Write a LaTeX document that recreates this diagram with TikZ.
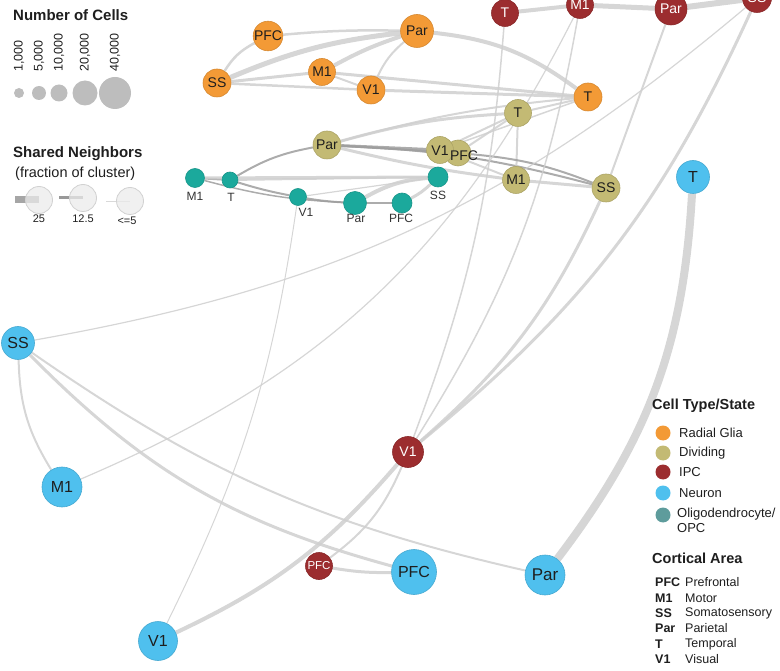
\documentclass[tikz,border=0pt]{standalone}
\usepackage{fontspec}
\setmainfont{Liberation Sans}
\usetikzlibrary{backgrounds}
\definecolor{rg}{HTML}{F39A36}
\definecolor{dv}{HTML}{C3BA74}
\definecolor{ipc}{HTML}{9C2D2F}
\definecolor{neu}{HTML}{4FC0EE}
\definecolor{olg}{HTML}{1BA99C}
\definecolor{olgleg}{HTML}{5E9C9C}
\definecolor{edl}{HTML}{CFCFCF}
\definecolor{edd}{HTML}{9E9E9E}
\definecolor{txt}{HTML}{1E1E1E}
\definecolor{lgrey}{HTML}{BDBDBD}
\newcommand\myfs[1]{\fontsize{#1}{#1}\selectfont}
\begin{document}
\begin{tikzpicture}[x=1pt,y=-1pt,
  cellnode/.style={circle, inner sep=0pt, fill=#1, draw=#1!88!black, line width=0.6pt, text=txt},
  rgn/.style={cellnode=rg, font=\myfs{14}},
  dvn/.style={cellnode=dv, font=\myfs{14}},
  ipn/.style={cellnode=ipc, font=\myfs{14}, text=white},
  nen/.style={cellnode=neu, font=\myfs{16}},
  oln/.style={cellnode=olg},
  olbl/.style={font=\myfs{12}, text=black!80, inner sep=0pt},
  dvl/.style={font=\myfs{14}, text=txt, inner sep=0pt},
  ed/.style={draw=edl, draw opacity=0.85, line width=#1pt},
  dk/.style={draw=edd, draw opacity=0.85, line width=#1pt},
  ttl/.style={font=\bfseries\myfs{15}, text=txt, anchor=west, inner sep=0pt},
  ttlb/.style={font=\bfseries\myfs{14.5}, text=txt, anchor=west, inner sep=0pt},
  lgc/.style={circle, inner sep=0pt, fill=lgrey},
  rotlbl/.style={rotate=90, anchor=west, font=\myfs{12.5}, text=txt, inner sep=0pt},
  shc/.style={circle, inner sep=0pt, minimum size=27pt, fill=black!8, fill opacity=0.75, draw=black!18, line width=0.8pt},
  shl/.style={font=\myfs{11}, text=txt, inner sep=0pt},
  lgd/.style={circle, inner sep=0pt, minimum size=15pt, fill=#1},
  lgt/.style={font=\fontsize{13}{15}\selectfont, text=txt, anchor=west, inner sep=0pt},
  abb/.style={font=\bfseries\myfs{12.5}, text=txt, anchor=west, inner sep=0pt},
  desc/.style={font=\myfs{12.5}, text=txt, anchor=west, inner sep=0pt}
]
\useasboundingbox (0,0) rectangle (780,671);

% ---------- radial glia ----------
\node[rgn, minimum size=28pt] (rPFC) at (268,36) {PFC};
\node[rgn, minimum size=33pt] (rPar) at (417,31) {Par};
\node[rgn, minimum size=28pt] (rSS) at (217,83) {SS};
\node[rgn, minimum size=27pt] (rM1) at (322,72) {M1};
\node[rgn, minimum size=28pt] (rV1) at (371,90) {V1};
\node[rgn, minimum size=28pt] (rT) at (588,97) {T};

% ---------- IPC ----------
\node[ipn, minimum size=27pt] (iT) at (505,13) {T};
\node[ipn, minimum size=27pt] (iM1) at (580,5) {M1};
\node[ipn, minimum size=32pt] (iPar) at (671,9) {Par};
\node[ipn, minimum size=29pt] (iSS) at (757,-2) {SS};
\node[ipn, minimum size=31pt] (iV1) at (408,452) {V1};
\node[ipn, minimum size=27pt, font=\myfs{11.5}] (iPFC) at (319,566) {PFC};

% ---------- dividing ----------
\node[dvn, minimum size=27pt] (dT) at (518,113) {T};
\node[dvn, minimum size=28pt] (dPar) at (327,145) {Par};
\node[dvn, minimum size=27pt] (dM1) at (516,180) {M1};
\node[dvn, minimum size=28pt] (dSS) at (606,188) {SS};
\node[dvn, minimum size=26pt] (dPFC) at (458,153) {};
\node[dvn, minimum size=27pt] (dV1) at (440,150) {};
\node[dvl] (dV1l) at (440,151) {V1};
\node[dvl] (dPFCl) at (464,156) {PFC};

% ---------- neuron ----------
\node[nen, minimum size=33pt] (nT) at (693,177) {T};
\node[nen, minimum size=33pt] (nSS) at (18,343) {SS};
\node[nen, minimum size=40pt] (nM1) at (62,487) {M1};
\node[nen, minimum size=45pt] (nPFC) at (414,572) {PFC};
\node[nen, minimum size=40pt, font=\myfs{17}] (nPar) at (545,575) {Par};
\node[nen, minimum size=39pt] (nV1) at (158,641) {V1};

% ---------- oligodendrocyte ----------
\node[oln, minimum size=19pt] (oM1) at (195,178) {};
\node[oln, minimum size=16pt] (oT) at (230,180) {};
\node[oln, minimum size=17pt] (oV1) at (298,197) {};
\node[oln, minimum size=23pt] (oPar) at (355,203) {};
\node[oln, minimum size=20pt] (oPFC) at (402,203) {};
\node[oln, minimum size=20pt] (oSS) at (438,177) {};
\node[olbl] (oM1l) at (195,196) {M1};
\node[olbl] (oTl) at (231,197) {T};
\node[olbl] (oV1l) at (306,212) {V1};
\node[olbl] (oParl) at (356,218) {Par};
\node[olbl] (oPFCl) at (401,218) {PFC};
\node[olbl] (oSSl) at (438,195) {SS};

% ---------- edges ----------
\begin{scope}[on background layer]
% radial glia
\draw[ed=2.5] (rSS) to[bend left=15] (rPFC);
\draw[ed=5] (rSS) to[bend left=8] (rPar);
\draw[ed=3] (rSS) -- (rM1);
\draw[ed=2.5] (rSS) -- (rV1);
\draw[ed=2.5] (rPFC) to[bend left=3] (rPar);
\draw[ed=4] (rM1) to[bend left=5] (rPar);
\draw[ed=2] (rM1) -- (rV1);
\draw[ed=2] (rV1) to[bend left=12] (rPar);
\draw[ed=4] (rPar) to[bend left=15] (rT);
\draw[ed=3] (rM1) -- (rT);
\draw[ed=3] (rV1) -- (rT);
% dividing to radial glia
\draw[ed=2] (dPar) to[bend left=5] (rT);
\draw[ed=1.5] (dV1) -- (rT);
\draw[ed=2] (dT) -- (rT);
% dividing
\draw[dk=3] (dPar) -- (dV1);
\draw[dk=2] (dPar) -- (dPFC);
\draw[ed=3] (dPar) to[bend right=3] (dM1);
\draw[dk=2] (dPar) to[bend left=6] (dSS);
\draw[ed=3] (dPar) to[bend left=6] (dT);
\draw[ed=2] (dV1) -- (dT);
\draw[ed=2] (dPFC) -- (dT);
\draw[ed=2] (dT) -- (dM1);
\draw[dk=2] (dPFC) to[bend left=8] (dSS);
\draw[ed=3] (dM1) -- (dSS);
\draw[ed=2] (dV1) -- (dM1);
\draw[dk=2] (dPar) to[bend right=10] (oT);
% oligodendrocyte
\draw[dk=2] (oM1) -- (oT);
\draw[dk=2] (oT) to[bend right=3] (oV1);
\draw[dk=2] (oV1) to[bend right=3] (oPar);
\draw[dk=2] (oPar) -- (oPFC);
\draw[dk=1.5] (oM1) to[bend right=6] (oPar);
\draw[ed=3] (oM1) -- (oSS);
\draw[ed=2] (oT) -- (oSS);
\draw[ed=4] (oPar) to[bend left=12] (oSS);
\draw[ed=3] (oPFC) to[bend right=8] (oSS);
\draw[ed=1.2] (oV1) -- (oSS);
% IPC
\draw[ed=4] (iT) -- (iM1);
\draw[ed=5] (iM1) -- (iPar);
\draw[ed=6] (iPar) -- (iSS);
\draw[ed=1.5] (iT) to[bend left=8] (iV1);
\draw[ed=1.5] (iM1) to[bend left=11] (iV1);
\draw[ed=1.2] (iM1) to[bend left=20] (nM1);
\draw[ed=2] (iPar) -- (dSS);
\draw[ed=3] (iSS) to[bend left=13] (iV1);
\draw[ed=1.2] (iSS) to[bend left=15] (nSS);
\draw[ed=3] (dSS) to[bend left=12] (iV1);
\draw[ed=4] (iV1) to[bend left=12] (nV1);
\draw[ed=2] (iV1) to[bend left=15] (iPFC);
\draw[ed=3] (iPFC) to[bend right=5] (nPFC);
% neuron
\draw[ed=8] (nT) to[bend left=17] (nPar);
\draw[ed=2] (nSS) to[bend right=15] (nM1);
\draw[ed=3] (nSS) to[bend right=15] (nPFC);
\draw[ed=2] (nSS) to[bend right=11] (nPar);
\draw[ed=1] (oV1) to[bend left=9] (nV1);
\end{scope}

% ---------- legend: number of cells ----------
\node[ttl] (tNum) at (13,15) {Number of Cells};
\node[rotlbl] (n1) at (19,72) {1,000};
\node[rotlbl] (n2) at (39,72) {5,000};
\node[rotlbl] (n3) at (59,72) {10,000};
\node[rotlbl] (n4) at (85,72) {20,000};
\node[rotlbl] (n5) at (115,72) {40,000};
\node[lgc, minimum size=10pt] (c1) at (19,93) {};
\node[lgc, minimum size=14pt] (c2) at (39,93) {};
\node[lgc, minimum size=17pt] (c3) at (59,93) {};
\node[lgc, minimum size=25pt] (c4) at (85,93) {};
\node[lgc, minimum size=32pt] (c5) at (115,93) {};

% ---------- legend: shared neighbors ----------
\node[ttl] (tSh) at (13,154) {Shared Neighbors};
\node[font=\myfs{14.5}, text=txt, anchor=west, inner sep=0pt] (tFr) at (15,174) {(fraction of cluster)};
\fill[black!35] (15,196.5) rectangle (39,203.5);
\fill[black!40] (59,196.5) rectangle (83,199.5);
\fill[black!15] (106,200.6) rectangle (130,201.4);
\node[shc] (s1) at (39,200) {};
\node[shc] (s2) at (83,198) {};
\node[shc] (s3) at (130,201) {};
\node[shl] (s1l) at (39,219) {25};
\node[shl] (s2l) at (83,219) {12.5};
\node[shl] (s3l) at (127,221) {<=5};

% ---------- legend: cell type ----------
\node[ttlb] (tCT) at (652,406) {Cell Type/State};
\node[lgd=rg] (l1) at (663,433) {};
\node[lgt] (l1t) at (679,433) {Radial Glia};
\node[lgd=dv] (l2) at (663,453) {};
\node[lgt] (l2t) at (679,453) {Dividing};
\node[lgd=ipc] (l3) at (663,472) {};
\node[lgt] (l3t) at (679,472) {IPC};
\node[lgd=neu] (l4) at (663,493) {};
\node[lgt] (l4t) at (679,493) {Neuron};
\node[lgd=olgleg] (l5) at (663,515) {};
\node[lgt, align=left] (l5t) at (677,520) {Oligodendrocyte/\\OPC};

% ---------- legend: cortical area ----------
\node[ttlb] (tCA) at (652,558) {Cortical Area};
\node[abb] (a1) at (655,582) {PFC};
\node[desc] (a1t) at (685,582) {Prefrontal};
\node[abb] (a2) at (655,598) {M1};
\node[desc] (a2t) at (685,598) {Motor};
\node[abb] (a3) at (655,613) {SS};
\node[desc] (a3t) at (685,613) {Somatosensory};
\node[abb] (a4) at (655,628) {Par};
\node[desc] (a4t) at (685,628) {Parietal};
\node[abb] (a5) at (655,644) {T};
\node[desc] (a5t) at (685,644) {Temporal};
\node[abb] (a6) at (655,659) {V1};
\node[desc] (a6t) at (685,659) {Visual};
\end{tikzpicture}
\end{document}
